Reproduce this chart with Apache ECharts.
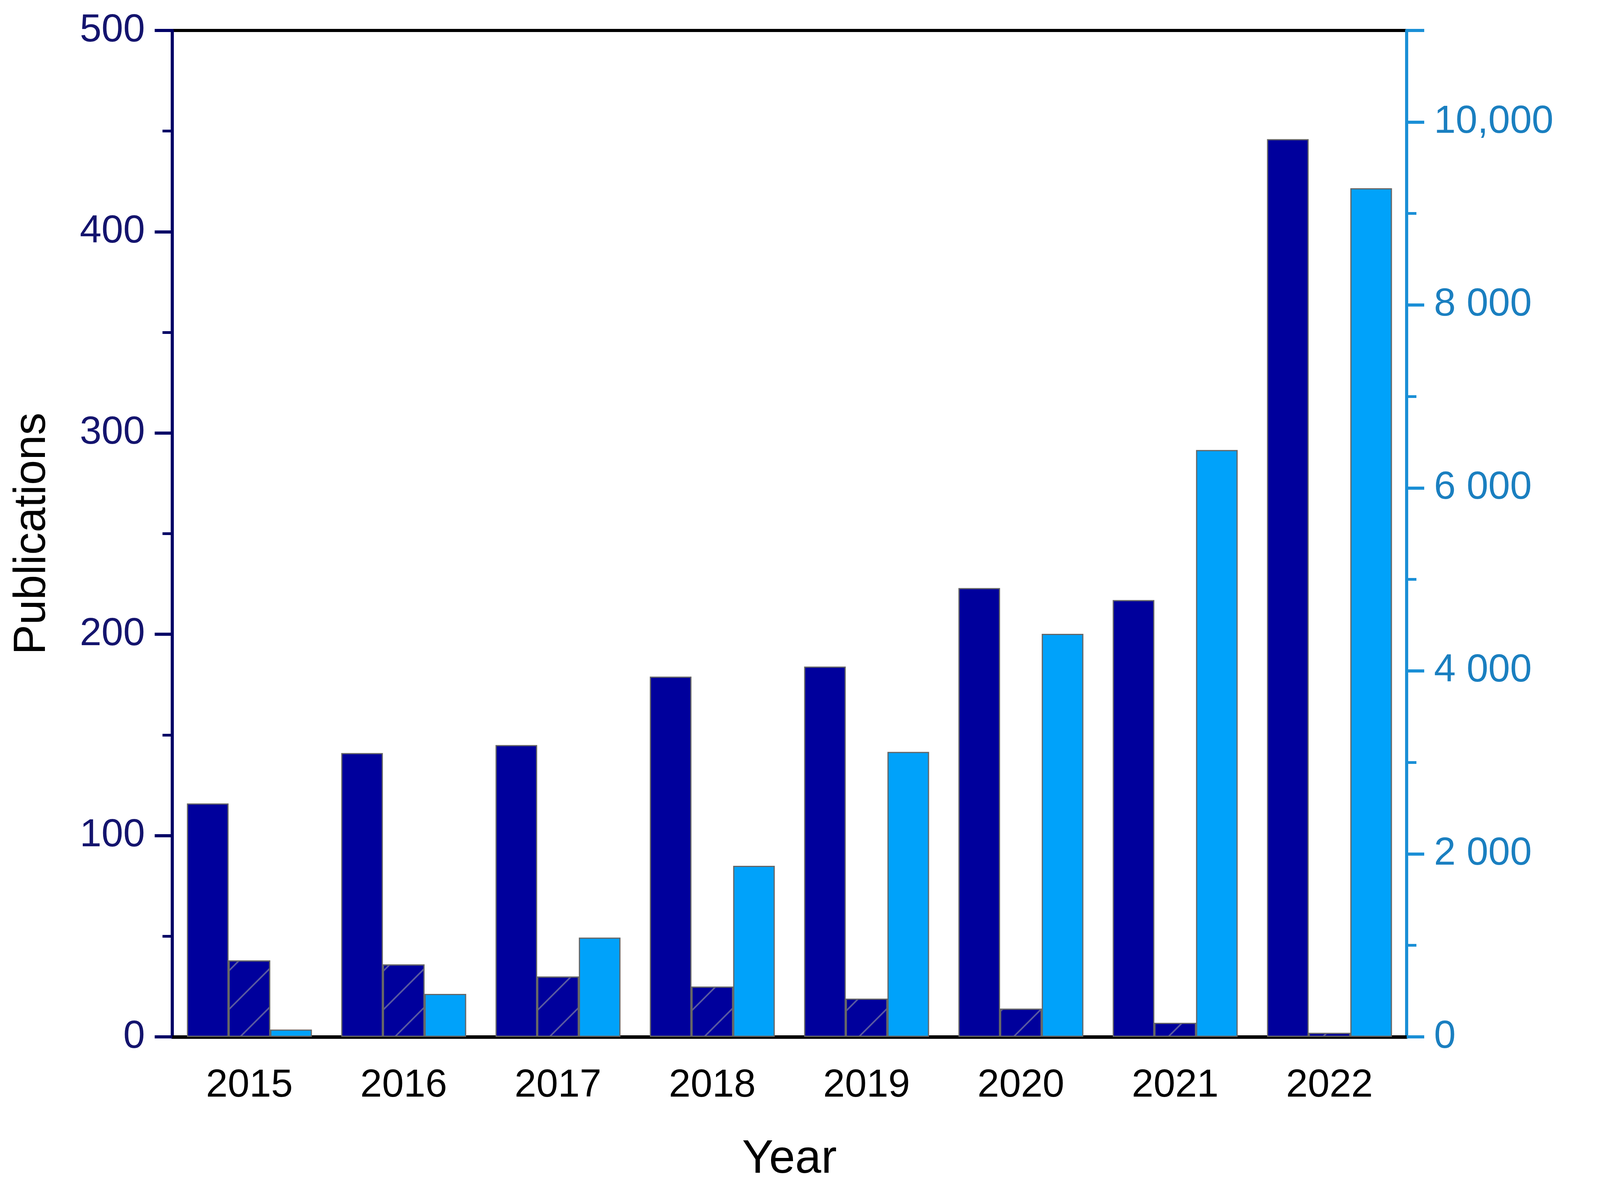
<!DOCTYPE html>
<html><head><meta charset="utf-8">
<script src="https://cdn.jsdelivr.net/npm/echarts@6/dist/echarts.min.js"></script>
<style>html,body{margin:0;background:#fff}#c{width:4224px;height:3042px}</style>
</head><body><div id="c"></div>
<script>
const years = ['2015','2016','2017','2018','2019','2020','2021','2022'];
const publications = [116,141,145,179,184,223,217,446];
const hatched = [38,36,30,25,19,14,7,2];
const citations = [80,470,1085,1870,3115,4405,6415,9275];

const chart = echarts.init(document.getElementById('c'));
const FONT = 'Liberation Sans';
const navy = '#00009c', light = '#00a2fa';
chart.setOption({
  animation:false,
  grid:{left:441,right:587,top:78,bottom:387,show:true,borderColor:'#000',borderWidth:8,backgroundColor:'transparent'},
  xAxis:[{
    type:'category',data:years,name:'Year',nameLocation:'middle',nameGap:255,
    nameTextStyle:{fontFamily:FONT,fontSize:120,color:'#000'},
    axisLine:{lineStyle:{color:'#000',width:9}},
    axisTick:{alignWithLabel:true,length:45,lineStyle:{color:'#000',width:8}},
    axisLabel:{fontFamily:FONT,fontSize:100,color:'#000',margin:75}
  },{
    type:'category',data:years,position:'bottom',
    axisLine:{show:false},axisLabel:{show:false},
    axisTick:{length:25,lineStyle:{color:'#000',width:8}}
  }],
  yAxis:[{
    type:'value',min:0,max:500,interval:100,name:'Publications',nameLocation:'middle',nameGap:300,
    nameTextStyle:{fontFamily:FONT,fontSize:115,color:'#000'},
    axisLine:{show:true,lineStyle:{color:'#000066',width:8}},
    axisTick:{show:true,length:45,lineStyle:{color:'#000066',width:8}},
    minorTick:{show:true,splitNumber:2,length:25,lineStyle:{color:'#000066',width:7}},
    splitLine:{show:false},
    axisLabel:{fontFamily:FONT,fontSize:100,color:'#14146e',margin:70}
  },{
    type:'value',min:0,max:11000,interval:2000,position:'right',name:'Citations',nameLocation:'middle',nameGap:500,
    nameRotate:90,
    nameTextStyle:{fontFamily:FONT,fontSize:115,color:'#000'},
    axisLine:{show:true,lineStyle:{color:'#1a8fd6',width:8}},
    axisTick:{show:true,length:45,lineStyle:{color:'#1a8fd6',width:8}},
    minorTick:{show:true,splitNumber:2,length:25,lineStyle:{color:'#1a8fd6',width:7}},
    splitLine:{show:false},
    axisLabel:{fontFamily:FONT,fontSize:100,color:'#1a7fc0',margin:70,
      formatter:v=>v>10000?'':v===10000?'10,000':(v>=1000?Math.floor(v/1000)+' '+String(v%1000).padStart(3,'0'):String(v))}
  }],
  series:[
    {type:'bar',data:publications,yAxisIndex:0,barGap:'0%',barCategoryGap:'19%',
     itemStyle:{color:navy,borderColor:'#666',borderWidth:3}},
    {type:'bar',data:hatched,yAxisIndex:0,barGap:'0%',barCategoryGap:'19%',
     itemStyle:{color:navy,borderColor:'#666',borderWidth:3,
       decal:{symbol:'rect',symbolSize:1,dashArrayX:[[1,0]],dashArrayY:[4,66],rotation:-Math.PI/4,color:'#5a5aa0',backgroundColor:navy}}},
    {type:'bar',data:citations,yAxisIndex:1,barGap:'0%',barCategoryGap:'19%',
     itemStyle:{color:light,borderColor:'#666',borderWidth:3}}
  ]
});
</script></body></html>
